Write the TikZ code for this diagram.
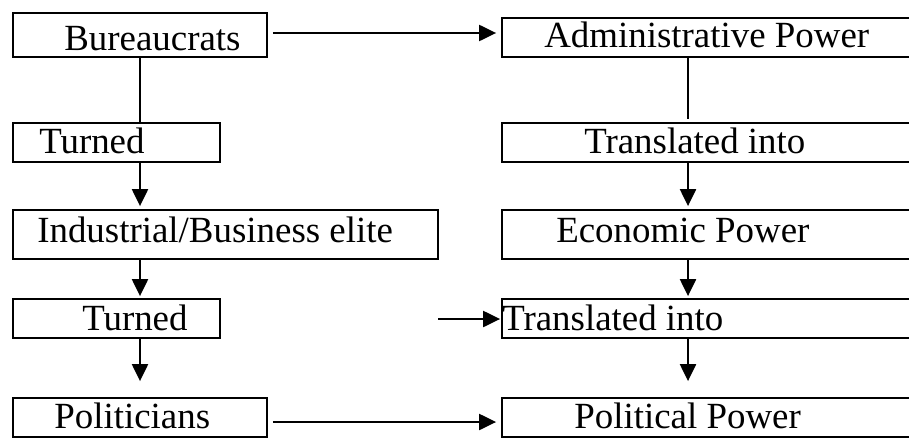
\documentclass[tikz,border=0pt]{standalone}
\usepackage{fontspec}
\setmainfont{Liberation Serif}
\usepackage{tikz}
\usetikzlibrary{arrows.meta}
\usetikzlibrary{calc}

\tikzset{
	box/.style={draw, line width=1.8pt, rectangle, inner sep=0pt},
	txt/.style={anchor=base west, inner sep=0pt, font=\fontsize{36.9pt}{44pt}\selectfont},
	arr/.style={line width=2.2pt, -{Triangle[length=17pt,width=16pt]}},
	lin/.style={line width=1.8pt}
}

\begin{document}
\begin{tikzpicture}[x=1pt,y=-1pt]
		\useasboundingbox (0,0) rectangle (909,439);
		\clip (0,0) rectangle (909,439);
		% left column
		\node[box, minimum width=254pt, minimum height=44pt,
			label={[txt, xshift=52pt, yshift=-15pt]west:Bureaucrats}] (L0) at (140,35) {};
		\node[box, minimum width=207pt, minimum height=39pt,
			label={[txt, xshift=27pt, yshift=-10.5pt]west:Turned}] (L1) at (116.5,142.5) {};
		\node[box, minimum width=425pt, minimum height=49pt,
			label={[txt, xshift=25pt, yshift=-7.5pt]west:Industrial/Business elite}] (L2) at (225.5,234.5) {};
		\node[box, minimum width=207pt, minimum height=39pt,
			label={[txt, xshift=70pt, yshift=-11.5pt]west:Turned}] (L3) at (116.5,318.5) {};
		\node[box, minimum width=254pt, minimum height=39pt,
			label={[txt, xshift=42pt, yshift=-10.5pt]west:Politicians}] (L4) at (140,417.5) {};
		% right column
		\node[box, minimum width=428pt, minimum height=39pt,
			label={[txt, xshift=43pt, yshift=-9.5pt]west:Administrative Power}] (R0) at (716,37.5) {};
		\node[box, minimum width=428pt, minimum height=39pt,
			label={[txt, xshift=83pt, yshift=-10.5pt]west:Translated into}] (R1) at (716,142.5) {};
		\node[box, minimum width=428pt, minimum height=49pt,
			label={[txt, xshift=55pt, yshift=-7.5pt]west:Economic Power}] (R2) at (716,234.5) {};
		\node[box, minimum width=428pt, minimum height=39pt,
			label={[txt, xshift=1pt, yshift=-11.5pt]west:Translated into}] (R3) at (716,318.5) {};
		\node[box, minimum width=428pt, minimum height=39pt,
			label={[txt, xshift=73pt, yshift=-10.5pt]west:Political Power}] (R4) at (716,417.5) {};
		% across
		\draw[arr, shorten <=5pt, shorten >=5pt] ([yshift=2pt]L0.east) to ([yshift=2pt]L0.east -| R0.west);
		\draw[arr, shorten <=5pt, shorten >=5pt] ([yshift=-4.5pt]L4.east) to ([yshift=-4.5pt]L4.east -| R4.west);
		\coordinate (F) at (438,319);
		\draw[arr, shorten >=1pt] (F) to (F -| R3.west);
		% down the left
		\draw[lin] (L0.south) to (L0.south |- L1.north);
		\draw[arr, shorten >=3pt] (L0.south |- L1.south) to (L0.south |- L2.north);
		\draw[arr, shorten >=2pt] (L0.south |- L2.south) to (L0.south |- L3.north);
		\draw[arr, shorten >=16pt] (L0.south |- L3.south) to (L0.south |- L4.north);
		% down the right
		\draw[lin, shorten >=3pt] ([xshift=-28pt]R0.south) to ([xshift=-28pt]R0.south |- R1.north);
		\draw[arr, shorten >=3pt] ([xshift=-28pt]R1.south) to ([xshift=-28pt]R1.south |- R2.north);
		\draw[arr, shorten >=2pt] ([xshift=-28pt]R2.south) to ([xshift=-28pt]R2.south |- R3.north);
		\draw[arr, shorten >=16pt] ([xshift=-28pt]R3.south) to ([xshift=-28pt]R3.south |- R4.north);
\end{tikzpicture}
\end{document}
